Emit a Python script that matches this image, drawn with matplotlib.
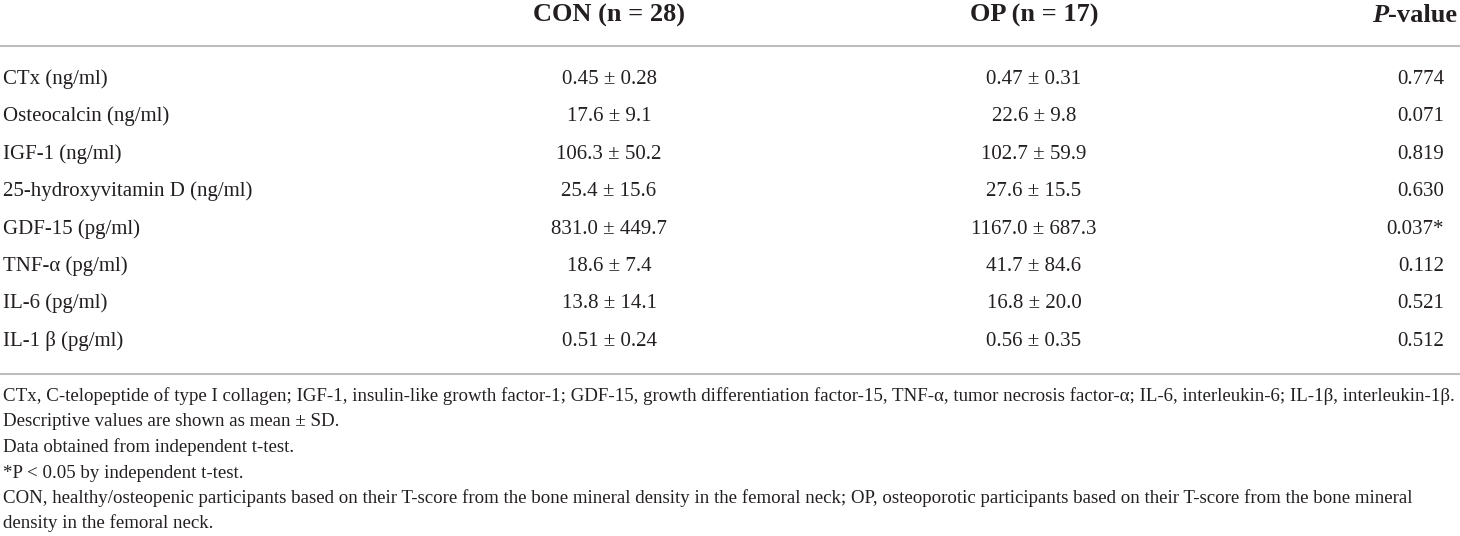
import matplotlib
matplotlib.use("Agg")
import matplotlib.pyplot as plt

plt.rcParams['font.family'] = ['Liberation Serif', 'DejaVu Serif']

# table content
headers = ["CON (n = 28)", "OP (n = 17)"]
markers = ["CTx (ng/ml)", "Osteocalcin (ng/ml)", "IGF-1 (ng/ml)",
           "25-hydroxyvitamin D (ng/ml)", "GDF-15 (pg/ml)", "TNF-\u03b1 (pg/ml)",
           "IL-6 (pg/ml)", "IL-1 \u03b2 (pg/ml)"]
con_mean = ["0.45", "17.6", "106.3", "25.4", "831.0", "18.6", "13.8", "0.51"]
con_sd = ["0.28", "9.1", "50.2", "15.6", "449.7", "7.4", "14.1", "0.24"]
op_mean = ["0.47", "22.6", "102.7", "27.6", "1167.0", "41.7", "16.8", "0.56"]
op_sd = ["0.31", "9.8", "59.9", "15.5", "687.3", "84.6", "20.0", "0.35"]
p_values = ["0.774", "0.071", "0.819", "0.630", "0.037*", "0.112", "0.521", "0.512"]
footnotes = [
    "CTx, C-telopeptide of type I collagen; IGF-1, insulin-like growth factor-1; GDF-15, growth differentiation factor-15, "
    "TNF-\u03b1, tumor necrosis factor-\u03b1; IL-6, interleukin-6; IL-1\u03b2, interleukin-1\u03b2.",
    "Descriptive values are shown as mean \u00b1 SD.",
    "Data obtained from independent t-test.",
    "*P < 0.05 by independent t-test.",
    "CON, healthy/osteopenic participants based on their T-score from the bone mineral density in the femoral neck; "
    "OP, osteoporotic participants based on their T-score from the bone mineral",
    "density in the femoral neck.",
]

ink = '#231f20'
rule = '#bdbdbd'

fig = plt.figure(figsize=(14.6, 5.36), dpi=100)
ax = fig.add_axes([0, 0, 1, 1])
ax.set_xlim(0, 1460)
ax.set_ylim(536, 0)
ax.axis('off')

col_x = [609, 1034]
p_x = 1444
body_fs = 15
head_fs = 19

# header row
for x, h in zip(col_x, headers):
    ax.text(x, 22, h, ha='center', va='baseline', fontsize=head_fs, fontweight='bold', color=ink)
hv = ax.text(1457, 22, "-value", ha='right', va='baseline', fontsize=head_fs, fontweight='bold', color=ink)
ax.annotate("P", xy=(0, 0), xycoords=hv, ha='right', va='bottom', fontsize=head_fs,
            fontweight='bold', fontstyle='italic', color=ink)

ax.axhline(45.5, color=rule, lw=1.5)

# body rows
for i, name in enumerate(markers):
    y = 84 + 37.4 * i
    ax.text(3, y, name, ha='left', va='baseline', fontsize=body_fs, color=ink)
    ax.text(col_x[0], y, f"{con_mean[i]} \u00b1 {con_sd[i]}", ha='center', va='baseline', fontsize=body_fs, color=ink)
    ax.text(col_x[1], y, f"{op_mean[i]} \u00b1 {op_sd[i]}", ha='center', va='baseline', fontsize=body_fs, color=ink)
    ax.text(p_x, y, p_values[i], ha='right', va='baseline', fontsize=body_fs, color=ink)

ax.axhline(373.5, color=rule, lw=1.5)

# footnotes
for j, line in enumerate(footnotes):
    ax.text(3, 401 + 25.5 * j, line, ha='left', va='baseline', fontsize=13.6, color=ink)

fig.savefig("out.png", dpi=100, facecolor='white')
